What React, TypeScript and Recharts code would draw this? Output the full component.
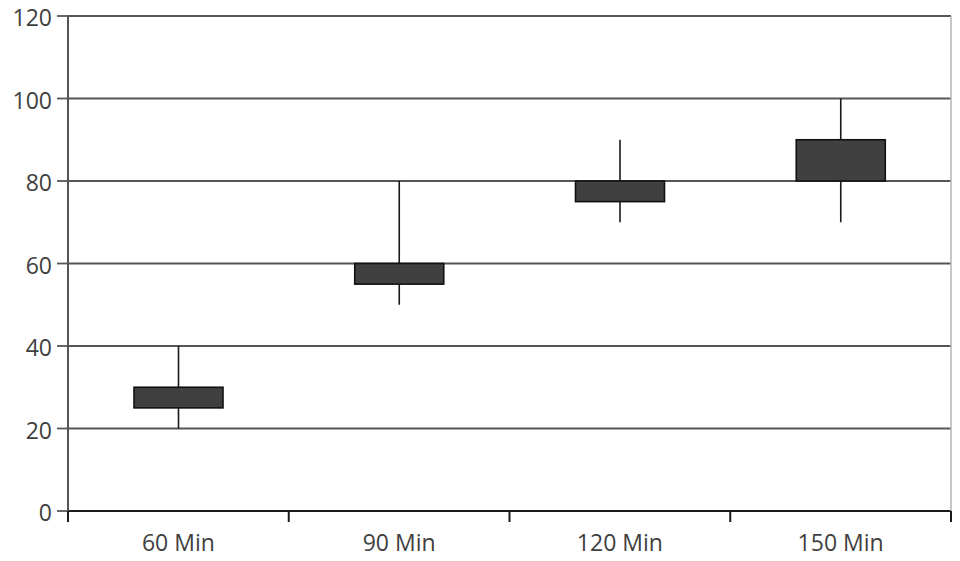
import React from "react";
import { ComposedChart, Bar, XAxis, YAxis, CartesianGrid } from "recharts";

const categories = ["60 Min", "90 Min", "120 Min", "150 Min"];
const lows = [20, 50, 70, 70];
const highs = [40, 80, 90, 100];
const opens = [25, 55, 75, 80];
const closes = [30, 60, 80, 90];
const yTicks = [0, 20, 40, 60, 80, 100, 120];

const data = categories.map((name, i) => ({
  name,
  low: lows[i],
  high: highs[i],
  open: opens[i],
  close: closes[i],
  range: [lows[i], highs[i]],
}));

const TEXT = "#404040";
const FONT = "'Open Sans', sans-serif";
const FS = 23;

const Candle = (props: any) => {
  const { x, y, width, height, payload } = props;
  if (x == null || y == null) return null;
  const { low, high, open, close } = payload;
  const yv = (v: number) => y + (height * (high - v)) / (high - low);
  const cx = x + width / 2;
  const top = Math.min(yv(open), yv(close));
  const bot = Math.max(yv(open), yv(close));
  return (
    <g>
      <line x1={cx} x2={cx} y1={yv(high)} y2={yv(low)} stroke="#1a1a1a" strokeWidth={1.6} />
      <rect x={x} y={top} width={width} height={bot - top} fill="#404040" stroke="#111" strokeWidth={1.6} />
    </g>
  );
};

const XTick = (props: any) => {
  const { x, y, payload, index, width, visibleTicksCount } = props;
  const band =
    width && visibleTicksCount ? width / visibleTicksCount : 2 * (payload.offset || 0);
  const left = x - band / 2;
  const right = x + band / 2;
  const last = index === (visibleTicksCount || 4) - 1;
  return (
    <g>
      <line x1={left} x2={left} y1={y} y2={y + 11} stroke="#1a1a1a" strokeWidth={2} />
      {last && <line x1={right} x2={right} y1={y} y2={y + 11} stroke="#1a1a1a" strokeWidth={2} />}
      <text x={x} y={y + 40} textAnchor="middle" fill={TEXT} fontSize={FS} fontFamily={FONT}>
        {payload.value}
      </text>
    </g>
  );
};

const YTick = (props: any) => {
  const { x, y, payload } = props;
  return (
    <text x={x} y={y} dy={10} textAnchor="end" fill={TEXT} fontSize={FS} fontFamily={FONT}>
      {payload.value}
    </text>
  );
};

export default function App() {
  return (
    <div style={{ margin: -8, width: 960, height: 561 }}>
      <ComposedChart
        width={960}
        height={561}
        data={data}
        margin={{ top: 16, right: 8, bottom: 10, left: 0 }}
      >
        <CartesianGrid vertical={false} stroke="#555" strokeWidth={1.8} />
        <XAxis
          dataKey="name"
          tickLine={false}
          tickSize={0}
          tickMargin={0}
          axisLine={{ stroke: "#1a1a1a", strokeWidth: 2 }}
          tick={<XTick />}
          height={40}
          interval={0}
        />
        <YAxis
          domain={[0, 120]}
          ticks={yTicks}
          width={68}
          tickSize={11}
          tickMargin={5}
          axisLine={{ stroke: "#555", strokeWidth: 2 }}
          tickLine={{ stroke: "#555", strokeWidth: 1.8 }}
          tick={<YTick />}
          interval={0}
        />
        <YAxis
          yAxisId="right"
          orientation="right"
          domain={[0, 120]}
          width={1}
          tick={false}
          tickLine={false}
          axisLine={{ stroke: "#b5b5b5", strokeWidth: 1.5 }}
        />
        <Bar dataKey="range" barSize={89} shape={<Candle />} isAnimationActive={false} />
      </ComposedChart>
    </div>
  );
}
